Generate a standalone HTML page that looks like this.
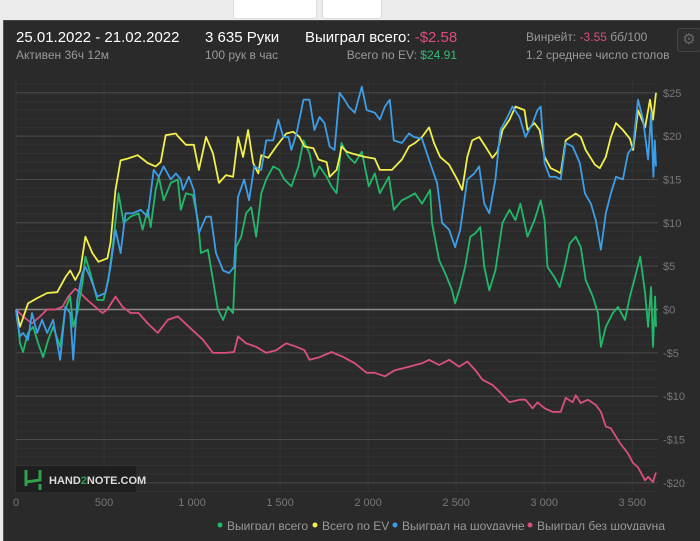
<!DOCTYPE html>
<html><head><meta charset="utf-8">
<style>
body{margin:0;width:700px;height:530px;overflow:hidden;background:#ececec;font-family:"Liberation Sans","Noto Sans CJK SC",sans-serif;position:relative}
.panel{position:absolute;left:3px;top:20px;width:700px;height:520px;background:#2a2a2a;border-left:1px solid #555;border-top:1px solid #444}
.t{position:absolute;white-space:nowrap}
.btn{position:absolute;top:0;height:18px;background:#fff;border:1px solid #ddd;border-top:none;border-radius:0 0 3px 3px}
</style></head><body>
<div class="btn" style="left:233px;width:82px"></div>
<div class="btn" style="left:322px;width:58px"></div>
<div class="panel"></div>
<div class="t" style="left:16px;top:29px;font-size:15px;color:#fff">25.01.2022 - 21.02.2022</div>
<div class="t" style="left:16px;top:48px;font-size:12px;color:#999">Активен 36ч 12м</div>
<div class="t" style="left:205px;top:29px;font-size:15px;color:#fff">3 635 Руки</div>
<div class="t" style="left:205px;top:48px;font-size:12px;color:#999">100 рук в час</div>
<div class="t" style="left:305px;top:29px;font-size:15px;color:#fff">Выиграл всего: <span style="color:#d9507c">-$2.58</span></div>
<div class="t" style="right:243px;top:48px;font-size:12px;color:#999">Всего по EV: <span style="color:#2fbf71">$24.91</span></div>
<div class="t" style="left:526px;top:30px;font-size:12px;color:#999">Винрейт: <span style="color:#d9507c">-3.55</span> бб/100</div>
<div class="t" style="left:526px;top:48px;font-size:12px;color:#999">1.2 среднее число столов</div>
<div style="position:absolute;left:677px;top:28px;width:22px;height:22px;border:1px solid #444;border-radius:3px;background:#2e2e2e;color:#666;font-size:15px;text-align:center;line-height:22px">⚙</div>
<svg id="chart" width="700" height="530" style="position:absolute;left:0;top:0"></svg>
<script>
const xTicks=[0,500,1000,1500,2000,2500,3000,3500];
const xTickLabels=["0","500","1 000","1 500","2 000","2 500","3 000","3 500"];
const yTicks=[25,20,15,10,5,0,-5,-10,-15,-20];
const yTickLabels=["$25","$20","$15","$10","$5","$0","-$5","-$10","-$15","-$20"];
const legendLabels=["Выиграл всего","Всего по EV","Выиграл на шоудауне","Выиграл без шоудауна"];
const totalHands=[0,6,23,40,68,97,126,154,183,211,251,280,308,325,348,377,394,422,462,497,525,554,582,611,651,696,719,748,765,793,811,839,879,919,936,965,1005,1033,1050,1090,1119,1147,1176,1204,1233,1250,1279,1307,1336,1364,1393,1421,1461,1496,1524,1564,1604,1633,1667,1695,1724,1764,1792,1821,1849,1889,1924,1964,2004,2038,2066,2118,2146,2192,2232,2266,2306,2352,2363,2403,2437,2477,2494,2523,2551,2580,2609,2637,2660,2688,2723,2763,2803,2837,2865,2905,2945,2980,3002,3019,3059,3088,3117,3145,3179,3208,3236,3276,3305,3322,3350,3390,3419,3459,3487,3516,3545,3573,3590,3607,3618,3630,3635];
const totalValues=[0,-0.4,-3.9,-4.9,-2.7,-2,-3.9,-5.5,-3.5,-2,-4.3,0,1.5,-2,-0.4,3,6.1,4.2,1.1,1.1,3.4,8,13.4,10,10.7,11.1,9.2,11.5,9.5,13.8,15.3,12.6,14.6,15,11.5,13.4,13.2,10.3,6.5,6.9,3.4,0,-1.2,0.3,-0.4,7.2,8.4,11.1,11.8,8.4,13.4,15,16.5,16.1,15,14.2,16.5,19.5,18,15.3,16.5,15.3,14.2,13.4,19.2,17.6,16.9,18.2,14.2,15.7,13.4,15.3,11.5,12.6,13,13.4,12.2,13.8,10,5.7,4.2,2.2,0.7,2.6,4.9,8.4,8.8,9.5,4.9,2.2,4.5,10,11.5,10.3,12.2,8.4,10.3,12.6,10.3,4.9,3.7,2.6,4.9,7.6,8.4,7.2,3.4,1.5,-0.4,-4.3,-2,-0.4,0.3,-1.2,1.5,3.7,6.1,1.9,-2,2.6,-4.3,1.5,-2];
const evHands=[0,23,68,120,177,234,280,308,337,365,394,434,468,519,537,565,594,634,691,748,793,822,850,908,919,965,1010,1039,1079,1119,1153,1193,1233,1261,1290,1318,1347,1376,1393,1433,1478,1535,1575,1610,1638,1689,1718,1764,1781,1821,1838,1849,1878,1906,1981,2038,2066,2135,2192,2232,2266,2306,2346,2374,2409,2460,2506,2534,2563,2591,2631,2666,2706,2734,2763,2803,2837,2888,2905,2945,2974,3002,3037,3077,3094,3122,3179,3208,3236,3288,3316,3350,3379,3408,3447,3487,3505,3533,3573,3601,3618,3635];
const evValues=[0,-2,0.7,1.3,1.9,2,3.7,4.5,3.4,4.5,8.4,6.5,5.5,5.9,7.7,13.8,17.2,17.4,17.8,16.9,16.5,17,20.1,20.3,20,19,19,16.1,19.9,18,14.6,15.5,15.3,19.9,17.6,20.7,16.9,15.7,17.8,17.5,18.8,20.3,20.5,19.9,18.8,18.6,17.3,17,15.3,16.1,17.6,18.8,18.2,18,17.6,17.4,16.1,16.1,17.3,18.8,19.2,19.9,21,19.2,17.6,16.7,15,13.8,17.6,19.5,19.9,18.8,17.5,18.2,20.7,21.9,23.4,23,20.7,21.5,20.7,17.6,16.3,15.9,15.7,19.5,20.3,19.9,18.4,16.7,16.3,17.6,19.9,21.5,20.7,19.7,18.4,23,21,24.2,21.9,25];
const sdHands=[0,6,23,40,68,91,120,148,177,211,251,280,308,325,348,377,394,422,462,508,537,565,594,622,662,708,748,782,811,839,879,908,936,948,982,1010,1039,1079,1107,1136,1176,1210,1239,1261,1296,1324,1353,1393,1421,1461,1490,1518,1547,1564,1593,1633,1667,1695,1724,1752,1781,1809,1838,1866,1889,1924,1964,1992,2038,2066,2095,2123,2146,2192,2232,2260,2306,2352,2392,2420,2460,2494,2523,2563,2603,2631,2660,2688,2723,2751,2791,2820,2860,2894,2934,2962,2980,3002,3031,3065,3094,3122,3162,3202,3231,3265,3293,3322,3350,3379,3408,3447,3476,3505,3533,3562,3590,3607,3620,3628,3635];
const sdValues=[0,-1.2,-3.1,-2.7,-3.5,-0.4,-2.7,-1.2,-2.7,-1.2,-5.8,0.3,-0.4,-5.8,1.1,4.2,4.9,3.7,1.5,1.9,4.9,9.2,6.5,11.1,11.1,11.5,10.7,16.1,15.3,16.5,15,15.7,15,13.8,15.3,13.8,8.8,10.7,10.7,6.5,4.5,4.2,4.9,13,15,12.6,16.5,16.1,19.5,19.5,21.9,19.9,19.9,18.4,20.3,24.2,24.2,20.7,22.2,21.5,18.8,18.4,25,24.2,23.4,22.7,25.7,23,22.7,21.9,23.4,24.2,19.5,19.2,20.3,19.9,19.7,16.9,14.6,10,9.2,7.2,9.2,15,15.7,16.5,12.2,11.1,15,20.7,22.2,23.4,22.2,19.9,21.5,23,23.4,16.9,15.3,15.3,15,19.2,18.8,16.9,13.4,12.2,10.3,6.9,11.1,13.4,15.3,15,18,18.8,24.2,21.9,17.3,22.7,15.3,19.5,16.5];
const nsdHands=[0,40,91,137,177,223,263,297,337,365,405,451,491,519,565,605,651,696,748,805,862,919,982,1062,1119,1193,1239,1261,1307,1364,1421,1478,1535,1593,1638,1667,1724,1792,1861,1924,1992,2038,2095,2152,2232,2306,2346,2403,2460,2517,2563,2609,2649,2706,2751,2803,2860,2894,2934,2962,3002,3048,3094,3122,3162,3179,3208,3248,3293,3322,3350,3379,3430,3476,3505,3533,3573,3590,3618,3630,3635];
const nsdValues=[0,-0.8,-1.6,-0.8,0,0,0.3,1.5,2.4,1.9,1.1,0.3,-0.4,0,1.5,0.3,-0.4,-0.4,-1.6,-2.7,-1.2,-0.8,-2,-3.5,-5,-5,-4.9,-3.1,-3.9,-4.3,-5,-4.7,-3.9,-4.3,-4.7,-5.8,-5.5,-4.9,-5.5,-6.2,-7.3,-7.3,-7.7,-7,-6.6,-6.2,-5.8,-6.4,-5.8,-6.6,-6,-7,-8.1,-8.7,-9.6,-10.7,-10.4,-10.4,-11.4,-10.7,-11.4,-11.8,-11.8,-10.2,-10.7,-9.9,-10.8,-10.4,-11,-11.8,-13.5,-13.7,-15.4,-16.6,-17.7,-18.2,-19.7,-19.3,-19.9,-19.1,-18.8];

const NS="http://www.w3.org/2000/svg";
const svg=document.getElementById('chart');
const X0=16,X1=656,HMAX=3635,YZ=309.5,PPD=8.67;
function xs(h){return X0+h*(X1-X0)/HMAX;}
function ys(v){return YZ-v*PPD;}
function mk(tag,attrs){const e=document.createElementNS(NS,tag);for(const k in attrs)e.setAttribute(k,attrs[k]);svg.appendChild(e);return e;}
// minor grid
for(let v=-21;v<=26;v++){
  const l=mk('line',{x1:X0,x2:658,y1:ys(v),y2:ys(v),stroke:'#333',"stroke-width":1});
  
  
}
xTicks.forEach((t,i)=>{
  const l=mk('line',{x1:xs(t),x2:xs(t),y1:80,y2:492,stroke:'#353535',"stroke-width":1});
  
  
  const tx=mk('text',{x:xs(t),y:506,fill:'#777',"font-size":11,"text-anchor":"middle","font-family":"Liberation Sans, sans-serif"});
  tx.textContent=xTickLabels[i];
  
  
});
yTicks.forEach((t,i)=>{
  const l=mk('line',{x1:X0,x2:658,y1:ys(t),y2:ys(t),stroke:t===0?'#8a8a8a':'#4a4a4a',"stroke-width":t===0?1.5:1});
  
  
  const tx=mk('text',{x:663,y:ys(t)+4,fill:'#777',"font-size":11,"font-family":"Liberation Sans, sans-serif"});
  tx.textContent=yTickLabels[i];
  
  
});
// logo
const lb=mk('rect',{x:16,y:466,width:120,height:26,fill:'#1f1f1f'});


const li=mk('path',{d:"M26 470 V476 M40 470 V480 L26 482 V486 M40 484 V490 M26 476 L26 486",stroke:'#2fa24a',"stroke-width":3,fill:'none'});


const lt=mk('text',{x:49,y:484,fill:'#ddd',"font-size":11,"font-weight":"bold","font-family":"Liberation Sans, sans-serif"});
lt.innerHTML='HAND<tspan fill="#2fa24a">2</tspan>NOTE.COM';


function series(hs,vs,color,name){
  const d=hs.map((h,i)=>(i?'L':'M')+xs(h).toFixed(1)+' '+ys(vs[i]).toFixed(1)).join(' ');
  const p=mk('path',{d:d,stroke:color,"stroke-width":1.8,fill:'none',"stroke-linejoin":"round"});
  
  
}
series(nsdHands,nsdValues,'#d9507c','line-non-showdown');
series(totalHands,totalValues,'#22b86a','line-total-won');
series(evHands,evValues,'#f2f04a','line-ev');
series(sdHands,sdValues,'#3d9ee8','line-showdown');
// legend
const lc=['#22b86a','#f2f04a','#3d9ee8','#d9507c'];
let lx=220;
const lw=[95,80,135,130];
legendLabels.forEach((s,i)=>{
  const c=mk('circle',{cx:lx,cy:525,r:2.5,fill:lc[i]});
  
  
  const tx=mk('text',{x:lx+7,y:530,fill:'#999',"font-size":12,"font-family":"Liberation Sans, sans-serif"});
  tx.textContent=s;
  
  
  lx+=lw[i];
});
</script>
</body></html>
